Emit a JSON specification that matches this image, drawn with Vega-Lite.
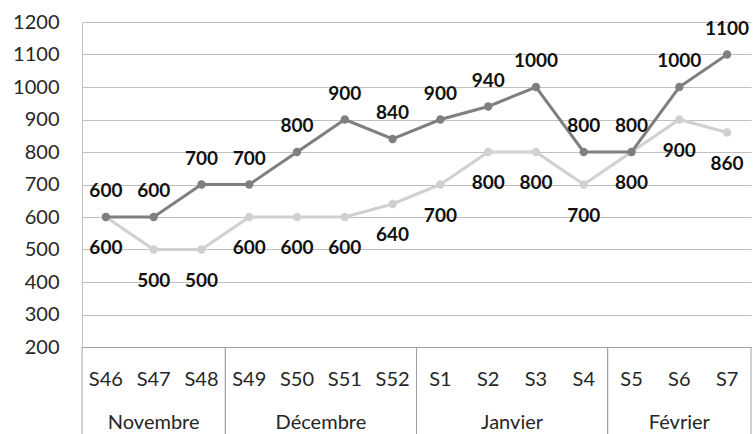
{
  "$schema": "https://vega.github.io/schema/vega-lite/v6.json",
  "padding": {"left": 12, "top": 12, "right": 0, "bottom": 0},
  "background": "white",
  "config": {
    "font": "Lato",
    "view": {"stroke": null},
    "axisY": {
      "title": null,
      "format": "d",
      "ticks": false,
      "labelOverlap": false,
      "labelPadding": 23,
      "labelFontSize": 20,
      "labelColor": "#262626",
      "gridColor": "#c0c0c0",
      "domainColor": "#c0c0c0"
    }
  },
  "datasets": {
    "semaines": [
      {"semaine": "S46", "mois": "Novembre", "sombre": 600, "clair": 600},
      {"semaine": "S47", "mois": "Novembre", "sombre": 600, "clair": 500},
      {"semaine": "S48", "mois": "Novembre", "sombre": 700, "clair": 500},
      {"semaine": "S49", "mois": "Décembre", "sombre": 700, "clair": 600},
      {"semaine": "S50", "mois": "Décembre", "sombre": 800, "clair": 600},
      {"semaine": "S51", "mois": "Décembre", "sombre": 900, "clair": 600},
      {"semaine": "S52", "mois": "Décembre", "sombre": 840, "clair": 640},
      {"semaine": "S1", "mois": "Janvier", "sombre": 900, "clair": 700},
      {"semaine": "S2", "mois": "Janvier", "sombre": 940, "clair": 800},
      {"semaine": "S3", "mois": "Janvier", "sombre": 1000, "clair": 800},
      {"semaine": "S4", "mois": "Janvier", "sombre": 800, "clair": 700},
      {"semaine": "S5", "mois": "Février", "sombre": 800, "clair": 800},
      {"semaine": "S6", "mois": "Février", "sombre": 1000, "clair": 900},
      {"semaine": "S7", "mois": "Février", "sombre": 1100, "clair": 860}
    ]
  },
  "data": {"name": "semaines"},
  "spacing": 0,
  "bounds": "flush",
  "vconcat": [
    {
      "width": 669,
      "height": 325,
      "transform": [{"window": [{"op": "row_number", "as": "rang"}]}],
      "encoding": {
        "x": {
          "field": "rang",
          "type": "quantitative",
          "scale": {"domain": [0.5, 14.5], "nice": false, "zero": false},
          "axis": {"labels": false, "ticks": false, "grid": false, "domainColor": "#a0a0a0", "title": null}
        }
      },
      "layer": [
        {
          "mark": {"type": "line", "color": "#d0d0d0", "strokeWidth": 3, "point": {"filled": true, "size": 70, "color": "#d0d0d0", "opacity": 1}},
          "encoding": {
            "y": {
              "field": "clair",
              "type": "quantitative",
              "scale": {"domain": [200, 1200], "nice": false, "zero": false},
              "axis": {"values": [200, 300, 400, 500, 600, 700, 800, 900, 1000, 1100, 1200], "title": null}
            }
          }
        },
        {
          "mark": {"type": "line", "color": "#7f7f7f", "strokeWidth": 3, "point": {"filled": true, "size": 70, "color": "#7f7f7f", "opacity": 1}},
          "encoding": {"y": {"field": "sombre", "type": "quantitative", "axis": {"values": [200, 300, 400, 500, 600, 700, 800, 900, 1000, 1100, 1200], "title": null}}}
        },
        {
          "mark": {"type": "text", "baseline": "alphabetic", "dy": 37, "fontSize": 19, "fontWeight": "bold", "color": "#111111"},
          "encoding": {
            "y": {"field": "clair", "type": "quantitative", "axis": {"values": [200, 300, 400, 500, 600, 700, 800, 900, 1000, 1100, 1200], "title": null}},
            "text": {"field": "clair", "type": "quantitative", "format": "d"}
          }
        },
        {
          "mark": {"type": "text", "baseline": "alphabetic", "dy": -20, "fontSize": 19, "fontWeight": "bold", "color": "#111111"},
          "encoding": {
            "y": {"field": "sombre", "type": "quantitative", "axis": {"values": [200, 300, 400, 500, 600, 700, 800, 900, 1000, 1100, 1200], "title": null}},
            "text": {"field": "sombre", "type": "quantitative", "format": "d"}
          }
        }
      ]
    },
    {
      "width": 669,
      "height": 87,
      "transform": [{"window": [{"op": "row_number", "as": "rang"}]}],
      "layer": [
        {
          "transform": [
            {"aggregate": [{"op": "min", "field": "rang", "as": "premier"}, {"op": "max", "field": "rang", "as": "dernier"}], "groupby": ["mois"]},
            {"calculate": "datum.premier - 0.5", "as": "debut"},
            {"calculate": "datum.dernier + 0.5", "as": "fin"},
            {"fold": ["debut", "fin"], "as": ["bord", "position"]}
          ],
          "mark": {"type": "rule", "color": "#a0a0a0", "strokeWidth": 1},
          "encoding": {
            "x": {"field": "position", "type": "quantitative", "scale": {"domain": [0.5, 14.5], "nice": false, "zero": false}, "axis": null}
          }
        },
        {
          "mark": {"type": "text", "fontSize": 20, "baseline": "alphabetic", "dy": 18, "color": "#262626"},
          "encoding": {
            "x": {"field": "rang", "type": "quantitative"},
            "y": {"datum": "semaine", "type": "ordinal", "scale": {"type": "point", "domain": ["semaine", "mois"], "padding": 0.45}, "axis": null},
            "text": {"field": "semaine"}
          }
        },
        {
          "mark": {"type": "text", "fontSize": 20, "baseline": "alphabetic", "dy": 16, "color": "#262626"},
          "transform": [{"aggregate": [{"op": "mean", "field": "rang", "as": "centre"}], "groupby": ["mois"]}],
          "encoding": {
            "x": {"field": "centre", "type": "quantitative"},
            "y": {"datum": "mois", "type": "ordinal"},
            "text": {"field": "mois"}
          }
        }
      ]
    }
  ]
}
